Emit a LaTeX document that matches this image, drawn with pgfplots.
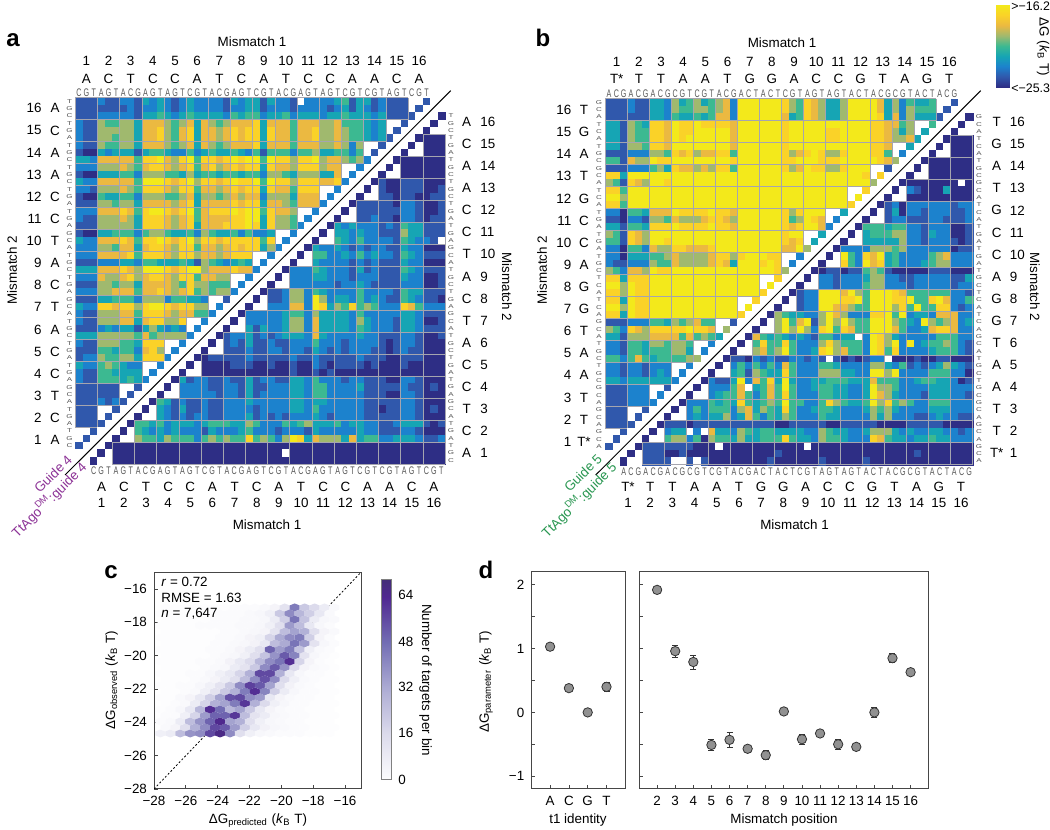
\documentclass[border=0pt]{standalone}
\usepackage{fontspec}
\setmainfont{Liberation Sans}
\usepackage{pgfplots}
\usepackage{pgfplotstable}
\pgfplotsset{compat=1.18}

% 1 px of the reference = 0.5pt
\newcommand\X[1]{{(#1)*0.5pt}}
\newcommand\Y[1]{{415pt-(#1)*0.5pt}}
\newcommand\lf{\fontsize{6.7}{8}\selectfont}
\newcommand\dG{ΔG}

\definecolor{guideA}{RGB}{140,50,150}
\definecolor{guideB}{RGB}{40,150,80}
\definecolor{axc}{RGB}{70,70,70}
\definecolor{gridc}{RGB}{165,165,175}
\definecolor{seqc}{RGB}{85,85,85}

\pgfplotsset{
  colormap={cells}{rgb255=(255,255,255) rgb255=(46,46,133) rgb255=(48,88,172) rgb255=(28,130,205)
    rgb255=(22,165,180) rgb255=(60,185,145) rgb255=(160,185,110) rgb255=(235,185,65)
    rgb255=(250,210,40) rgb255=(243,233,27)},
  colormap={bar}{rgb255=(46,46,133) rgb255=(48,88,172) rgb255=(28,130,205)
    rgb255=(22,165,180) rgb255=(60,185,145) rgb255=(160,185,110) rgb255=(235,185,65)
    rgb255=(250,210,40) rgb255=(243,233,27)},
  colormap={purp}{rgb255(0pt)=(253,253,254) rgb255(16pt)=(220,219,236) rgb255(32pt)=(173,172,212)
    rgb255(48pt)=(115,110,180) rgb255(64pt)=(80,40,145) rgb255(70pt)=(68,45,120)},
  heat/.style={hide axis, scale only axis, y dir=reverse, anchor=north west,
    xmin=-0.5, xmax=49.5, ymin=-0.5, ymax=49.5,
    colormap name=cells, point meta min=0, point meta max=9},
  plain/.style={scale only axis, anchor=north west, axis line style={axc, line width=0.5pt},
    tick align=inside, xtick pos=bottom, ytick pos=left, major tick length=2pt,
    tick style={axc, line width=0.4pt}, tick label style={font=\lf},
    label style={font=\lf}},
}

\pgfdeclareplotmark{hexb}{%
  \pgfpathmoveto{\pgfqpoint{0pt}{2pt}}%
  \pgfpathlineto{\pgfqpoint{2.5pt}{1pt}}%
  \pgfpathlineto{\pgfqpoint{2.5pt}{-1pt}}%
  \pgfpathlineto{\pgfqpoint{0pt}{-2pt}}%
  \pgfpathlineto{\pgfqpoint{-2.5pt}{-1pt}}%
  \pgfpathlineto{\pgfqpoint{-2.5pt}{1pt}}%
  \pgfpathclose\pgfusepathqfill}

% levels: 0 = no data, 1 (below -25.3) ... 9 (above -16.2)
\pgfplotstableread[header=false]{
2 2 2  3 2 2  3 3 2  4 3 4  3 2 3  4 3 3  3 3 2  4 3 4  4 2 4  3 3 2  0 3 3  3 3 4  5 2 4  4 2 3  2 2 2  0 0 2  0 0
2 2 2  2 2 2  2 3 2  3 3 4  3 2 3  4 3 3  3 3 2  3 3 4  4 2 3  3 3 2  3 3 3  3 2 3  4 2 4  3 2 3  2 2 2  0 2 0  0 0
2 2 2  3 3 3  3 3 2  4 4 5  4 3 4  5 4 4  4 4 3  5 4 5  5 3 4  4 5 3  4 4 4  3 4 4  5 4 4  4 3 4  2 2 2  2 0 0  0 1
3 2 2  6 5 5  6 6 4  7 7 7  6 5 6  7 4 7  6 5 6  7 7 7  8 4 7  7 7 5  7 7 7  6 6 7  5 5 5  4 3 4  0 0 2  0 0 0  1 0
3 2 2  6 6 6  6 6 4  7 7 8  6 5 7  8 4 7  7 6 7  8 7 8  8 4 8  7 7 5  7 7 8  6 6 7  6 5 5  4 3 4  0 2 0  0 0 1  0 0
3 2 2  6 6 5  6 6 4  7 7 8  6 5 7  8 4 7  7 6 7  8 7 8  8 4 8  7 7 5  7 7 8  6 6 7  6 5 5  4 3 4  2 0 0  0 1 1  1 1
3 2 2  6 5 5  6 6 4  7 7 7  6 5 6  7 4 7  6 5 6  7 7 7  8 4 7  7 7 5  7 7 7  6 6 7  6 3 6  0 0 2  0 0 0  1 0 1  1 1
2 1 1  4 3 4  4 4 2  4 5 5  4 3 3  5 3 4  5 4 4  5 4 3  5 2 5  5 5 3  5 5 6  4 4 5  5 3 5  0 2 0  0 0 1  0 0 1  1 1
4 4 3  7 7 7  7 7 5  8 8 9  7 6 8  9 5 8  8 7 8  9 8 9  9 5 9  8 8 6  8 8 9  6 7 7  6 5 6  3 0 0  0 1 1  1 1 1  1 1
3 3 3  6 6 6  7 6 5  7 8 8  7 6 7  8 5 7  8 6 7  8 7 8  8 4 8  7 7 6  8 8 8  6 7 7  0 0 3  0 0 0  1 0 1  1 1 1  1 1
2 1 1  4 4 4  5 5 3  6 6 6  5 5 4  6 4 5  5 4 5  5 4 5  5 3 6  6 5 4  6 6 6  4 4 7  0 3 0  0 0 1  0 0 1  1 1 1  1 1
4 3 3  7 7 7  7 7 5  9 9 9  8 7 8  9 6 8  8 7 8  9 8 8  9 5 9  8 8 6  8 8 8  7 7 8  3 0 0  0 1 2  1 1 2  2 2 1  1 1
3 3 2  6 6 6  7 6 5  8 8 8  7 6 8  8 5 7  7 6 7  8 7 8  8 4 8  7 7 5  8 8 8  0 0 3  0 0 0  1 0 2  1 1 2  2 2 1  1 2
2 1 1  5 4 4  5 5 3  6 6 6  5 5 6  7 4 6  6 5 6  7 6 7  7 3 6  6 6 4  7 7 7  0 3 0  0 0 1  0 0 2  2 1 2  2 1 1  2 2
2 2 2  6 6 5  6 6 4  7 7 7  7 6 7  8 4 7  7 7 7  8 7 8  8 4 7  7 6 5  7 7 7  3 0 0  0 1 2  2 2 2  2 1 3  3 2 1  1 2
3 3 3  7 7 7  8 7 5  8 9 9  8 7 8  9 5 7  8 8 8  9 8 9  9 5 8  7 7 6  0 0 3  0 0 0  1 0 2  2 2 2  2 2 3  3 2 1  1 2
3 2 2  6 6 6  7 6 4  8 8 8  7 6 7  8 5 7  7 7 7  8 8 9  9 4 8  6 6 5  0 3 0  0 0 1  0 0 2  2 3 2  2 1 3  3 2 1  2 2
2 2 2  6 6 6  6 6 4  8 8 8  7 6 7  8 4 7  7 7 8  8 8 9  8 4 8  6 6 5  3 0 0  0 1 4  3 4 3  3 3 2  3 2 5  4 4 2  2 2
2 1 1  4 4 5  5 5 3  5 6 6  5 4 4  5 3 6  5 4 4  5 3 5  3 3 4  0 0 3  0 0 0  1 0 4  4 3 4  3 3 2  2 2 6  4 4 2  2 2
4 3 3  7 7 7  8 7 5  8 8 9  8 7 8  9 6 8  8 7 8  8 8 8  8 5 8  0 3 0  0 0 1  0 0 5  4 3 5  3 3 3  3 2 5  4 3 3  2 0
3 3 3  6 6 5  7 7 4  7 8 8  7 6 8  8 5 7  7 6 7  8 7 8  8 4 6  3 0 0  0 1 4  3 3 4  3 2 3  2 3 3  2 2 4  3 3 1  1 1
3 3 3  7 7 7  7 8 5  8 8 8  7 6 8  8 6 7  7 6 7  8 8 8  0 0 3  0 0 0  1 0 5  5 3 3  4 3 5  3 4 3  3 2 5  4 3 2  2 2
2 2 2  3 3 3  4 4 3  5 5 4  4 4 5  4 2 6  5 4 3  4 5 4  0 3 0  0 0 1  0 0 4  3 3 3  3 2 3  2 3 2  2 2 4  3 3 1  1 1
4 4 4  7 7 7  8 7 6  9 9 9  8 7 8  9 9 6  7 7 7  8 7 7  3 0 0  0 1 3  3 3 5  4 3 3  3 2 4  2 3 2  2 2 5  4 3 2  2 2
3 3 3  7 6 6  7 8 6  7 8 8  7 6 8  8 5 7  7 6 6  0 0 3  0 0 0  1 0 3  3 3 4  4 3 3  3 2 3  3 3 2  2 2 4  3 3 1  1 2
2 2 2  6 6 5  6 6 4  7 7 7  7 6 5  8 6 6  5 5 5  0 3 0  0 0 1  0 0 3  3 3 3  3 3 2  3 3 4  3 2 2  2 2 3  3 3 1  1 2
3 3 3  6 6 7  7 7 5  7 7 8  7 6 7  8 5 6  5 6 6  3 0 0  0 1 2  2 3 6  6 3 5  4 3 3  3 3 5  3 3 3  3 2 5  4 4 2  2 2
2 2 2  4 4 5  5 5 3  6 6 6  3 5 5  4 4 3  0 0 2  0 0 0  1 0 2  2 3 6  6 3 9  6 3 4  4 3 5  3 4 3  2 2 5  4 3 2  2 1
4 3 3  8 8 7  8 8 6  8 9 9  8 7 8  8 6 6  0 3 0  0 0 1  0 0 3  3 3 7  7 3 9  8 4 6  5 8 5  6 5 3  3 3 8  7 5 3  3 3
3 2 2  6 6 6  7 7 5  8 8 8  7 6 7  7 5 5  3 0 0  0 1 3  3 3 3  3 4 5  5 3 6  4 4 4  4 3 5  3 3 3  3 3 4  4 3 2  2 2
3 2 2  6 6 6  7 7 4  7 8 8  6 6 8  0 0 3  0 0 0  1 0 3  3 3 3  3 4 6  6 3 7  4 4 4  4 3 6  4 3 3  3 2 4  4 3 1  1 2
2 2 2  3 4 3  4 4 2  4 6 4  3 4 3  0 3 0  0 0 1  0 0 4  2 4 3  3 4 6  6 3 7  4 4 4  4 3 5  4 3 3  3 2 4  4 3 2  2 2
4 4 4  6 6 6  6 6 5  7 5 6  6 6 6  3 0 0  0 1 2  3 3 4  2 3 2  3 4 4  4 3 7  4 3 3  3 3 4  3 3 2  2 2 3  3 2 1  1 2
3 2 2  6 6 6  5 5 4  8 8 8  0 0 3  0 0 0  1 0 2  3 2 4  2 2 3  2 2 3  3 3 5  3 3 3  2 3 3  3 3 2  1 2 3  3 2 1  1 1
2 2 2  5 5 4  5 5 3  7 8 6  0 3 0  0 0 1  0 0 2  2 2 3  2 2 3  3 2 3  3 2 4  3 2 3  2 3 3  3 2 2  1 2 3  2 2 1  1 1
2 3 3  6 5 5  6 6 4  8 8 8  3 0 0  0 1 1  2 2 2  2 2 3  2 2 2  2 2 3  2 2 3  2 2 2  2 2 3  2 2 2  1 1 2  2 2 1  1 1
4 3 3  5 6 5  4 3 3  0 0 3  0 0 0  1 0 1  1 1 1  2 2 2  1 1 2  1 1 2  1 1 3  2 1 2  2 2 2  1 2 1  1 1 2  1 1 1  1 1
3 2 2  5 5 4  4 4 4  0 3 0  0 0 1  0 0 1  1 1 1  1 1 1  1 1 1  1 1 2  1 1 2  1 2 1  1 1 1  1 1 1  1 1 1  1 1 1  1 1
3 2 2  5 5 5  4 5 4  3 0 0  0 1 4  2 3 3  2 2 3  2 2 4  2 3 3  2 2 4  4 3 5  3 3 3  2 3 3  2 2 2  1 1 3  3 2 1  1 1
2 2 2  2 2 2  0 0 2  0 0 0  1 0 3  3 3 3  2 2 3  3 2 4  2 2 3  3 3 4  4 3 5  5 3 3  3 3 4  2 2 2  2 2 3  2 2 1  2 1
2 2 2  2 2 2  0 2 0  0 0 1  0 0 3  3 3 3  3 2 3  3 2 4  2 3 3  3 3 4  4 3 5  5 3 3  3 3 3  2 2 2  1 1 3  3 2 1  1 1
2 2 2  3 2 3  2 0 0  0 1 5  4 2 3  2 2 3  2 2 3  3 3 4  3 3 3  3 3 4  4 3 4  4 3 3  3 3 3  2 2 2  2 2 3  3 2 1  1 1
2 2 2  0 0 2  0 0 0  1 0 4  3 2 4  2 2 3  2 2 3  3 3 3  2 3 3  3 3 4  4 3 5  3 3 3  3 3 3  2 2 1  2 2 3  3 2 1  2 1
2 2 2  0 2 0  0 0 1  0 0 4  3 2 3  2 3 3  2 2 3  3 3 4  2 3 2  3 2 3  3 3 4  3 2 3  3 3 3  2 2 2  2 2 3  3 2 1  1 1
2 2 2  2 0 0  0 1 5  5 4 5  3 4 4  4 3 4  5 5 5  4 4 6  5 3 3  3 5 4  5 6 4  4 4 5  3 4 4  3 3 2  2 3 4  4 4 2  1 2
0 0 2  0 0 0  1 0 5  4 3 4  3 4 3  3 3 2  4 3 3  3 4 5  3 3 3  2 3 3  3 2 4  3 3 3  3 3 4  3 3 2  2 2 3  3 2 1  1 1
0 2 0  0 0 1  0 0 6  5 5 4  6 5 5  5 3 5  6 5 6  5 5 8  5 6 5  3 6 9  8 4 7  6 6 6  4 7 4  5 5 3  3 4 4  4 3 2  2 3
2 0 0  0 1 1  1 1 1  1 1 1  1 1 1  1 1 1  1 1 1  1 1 1  1 1 1  1 1 1  1 1 1  1 1 1  1 1 1  1 1 1  1 1 1  1 1 1  1 1
0 0 0  1 0 1  1 1 1  1 1 1  1 1 1  1 1 1  1 1 1  1 1 1  1 1 1  1 0 1  1 1 1  1 1 1  1 1 1  1 1 1  1 1 1  1 1 1  1 1
0 0 1  0 0 1  1 1 1  1 1 1  1 1 1  1 1 1  1 1 1  1 1 1  1 1 1  1 1 1  1 1 1  1 1 1  1 1 1  1 1 1  1 1 1  1 1 1  1 1
}\tabA

\pgfplotstableread[header=false]{
2 2 2  3 2 2  4 4 3  6 4 5  6 4 5  6 7 3  9 9 9  9 9 9  8 6 5  8 7 6  4 4 6  9 9 9  9 7 4  6 3 5  4 4 5  0 0 2  0 0
2 2 2  3 2 2  4 4 3  6 5 5  6 6 5  6 7 3  9 9 9  9 9 9  8 6 5  8 7 6  4 4 6  9 9 9  9 7 4  6 3 6  5 5 5  0 2 0  0 0
2 2 2  2 2 2  4 4 3  5 4 4  5 4 5  7 7 3  9 9 9  9 9 9  7 4 5  8 7 6  4 4 6  9 9 9  9 8 4  7 3 6  4 4 4  2 0 0  0 1
4 4 2  6 5 4  8 8 7  9 8 8  9 8 8  8 8 7  9 9 9  9 9 9  8 9 9  9 9 9  9 9 9  9 9 9  8 8 7  7 5 6  0 0 5  0 0 0  1 0
4 4 2  6 5 5  8 8 7  9 8 8  9 9 9  9 9 7  9 9 9  9 9 9  8 9 9  9 9 9  8 8 9  9 9 9  8 8 7  6 4 6  0 4 0  0 0 1  0 0
4 4 2  6 5 5  8 8 7  9 8 9  9 9 9  9 9 7  9 9 9  9 9 9  8 9 9  9 9 9  8 8 9  9 9 9  8 8 7  6 6 7  4 0 0  0 1 1  1 1
4 4 2  6 6 5  8 8 7  9 9 9  9 9 9  9 9 7  9 9 9  9 9 9  8 9 9  9 9 9  9 9 9  9 9 9  8 8 7  0 0 4  0 0 0  1 0 1  1 1
2 2 2  3 3 3  6 6 5  8 7 8  6 7 7  8 8 5  9 9 9  9 9 9  8 6 7  8 9 8  6 6 8  9 9 9  8 8 5  0 3 0  0 0 1  0 0 1  1 1
5 5 2  7 6 6  9 8 8  9 9 9  9 9 9  9 9 8  9 9 9  9 9 9  8 8 9  9 9 8  8 8 9  9 9 9  9 8 7  6 0 0  0 1 1  1 1 1  1 1
2 2 2  3 3 3  5 6 4  8 7 7  6 7 6  8 8 5  9 9 9  9 9 9  8 6 7  9 8 8  6 6 8  9 9 9  0 0 2  0 0 0  1 0 1  1 1 1  1 1
8 8 4  9 9 9  9 9 9  9 9 9  9 9 9  9 9 9  9 9 9  9 9 9  9 9 9  9 9 9  9 9 9  9 9 8  0 8 0  0 0 1  0 0 1  1 1 1  1 1
6 5 2  8 7 6  9 9 8  9 9 9  9 9 9  9 9 9  9 9 9  9 9 9  9 9 9  9 9 9  9 9 9  9 9 9  6 0 0  0 1 1  1 1 1  1 1 1  0 1
8 8 5  9 9 9  9 9 9  9 9 9  9 9 9  9 9 9  9 9 9  9 9 9  9 9 9  9 9 9  9 9 9  0 0 8  0 0 0  1 0 3  2 1 1  1 4 1  1 1
9 9 6  9 9 9  9 9 9  9 9 9  9 9 9  9 9 9  9 9 9  9 9 9  9 9 9  9 9 9  9 9 9  0 9 0  0 0 1  0 0 1  1 1 1  1 1 1  1 1
8 8 5  9 9 9  9 9 9  9 9 9  9 9 9  9 9 9  9 9 9  9 9 9  9 9 9  9 9 9  9 9 9  8 0 0  0 1 2  3 1 3  3 3 3  3 3 2  3 3
3 3 1  5 5 4  7 7 7  9 8 8  8 8 9  8 8 7  9 9 9  9 9 9  8 6 8  9 9 9  0 0 4  0 0 0  1 0 2  4 1 3  3 2 3  3 3 2  2 3
2 2 1  3 3 2  6 6 5  7 6 6  6 7 8  8 7 6  9 9 9  9 9 9  8 5 6  9 8 7  0 3 0  0 0 1  0 0 2  3 3 2  2 2 3  3 2 2  2 3
4 4 2  5 5 4  8 8 8  9 8 8  8 8 9  8 8 7  9 9 9  9 9 9  8 7 8  9 9 7  3 0 0  0 1 5  5 5 4  5 5 3  3 2 3  3 3 1  1 2
6 5 2  8 7 6  9 9 9  9 9 9  9 9 9  9 9 9  9 9 9  9 9 9  8 9 9  0 0 4  0 0 0  1 0 4  5 5 5  6 6 3  3 2 4  3 3 1  1 2
5 5 2  8 7 6  9 9 8  9 9 9  9 9 9  9 9 9  9 9 9  9 9 9  8 7 8  0 4 0  0 0 1  0 0 4  4 4 4  4 6 3  3 2 3  3 3 2  1 2
3 3 1  5 5 3  7 6 6  8 8 7  7 7 8  9 9 9  9 9 9  9 9 9  7 7 9  6 0 0  0 1 3  3 3 3  6 6 6  5 6 3  3 3 3  3 3 1  2 2
3 3 1  4 4 4  5 5 6  7 6 6  6 6 7  8 8 6  8 9 9  9 8 8  0 0 3  0 0 0  1 0 9  5 3 8  7 9 4  5 3 3  3 3 5  6 7 3  3 3
3 2 2  3 3 3  6 5 5  7 6 6  6 6 7  8 7 4  9 9 9  8 9 8  0 3 0  0 0 1  0 0 8  5 3 9  7 8 4  5 3 3  3 4 5  6 6 3  3 3
6 5 3  7 7 6  9 8 8  9 9 9  9 9 9  9 9 9  9 9 9  9 9 8  6 0 0  0 1 1  2 2 1  2 2 5  6 5 2  1 1 1  1 1 2  2 2 1  1 1
8 8 4  8 8 8  9 9 9  9 9 9  9 9 9  9 9 9  9 9 9  0 0 8  0 0 0  1 0 3  3 2 3  3 3 4  6 6 3  3 2 2  3 3 3  3 3 2  2 4
9 9 6  9 8 8  9 9 9  9 9 9  9 9 9  9 9 9  9 9 9  0 9 0  0 0 1  0 0 3  3 2 3  3 3 5  6 6 3  3 3 2  3 3 3  3 3 2  3 3
8 8 6  9 8 8  9 9 9  9 9 9  9 9 9  9 9 9  9 9 9  8 0 0  0 1 2  3 3 9  9 9 7  9 6 5  9 9 9  8 7 5  5 5 5  5 5 3  3 2
8 8 4  9 8 8  9 9 9  9 9 9  9 9 9  9 9 9  0 0 8  0 0 0  1 0 2  3 3 9  9 9 8  8 9 5  9 9 9  8 8 9  5 5 8  9 7 3  3 5
9 9 6  9 8 8  9 9 9  9 9 9  9 9 9  9 9 9  0 9 0  0 0 1  0 0 2  3 3 9  9 7 7  6 5 5  9 9 9  6 8 5  9 5 5  8 8 3  2 3
8 8 4  9 8 8  9 9 9  9 9 9  9 9 9  9 9 9  8 0 0  0 1 6  5 4 4  3 3 6  9 7 6  3 3 3  8 8 9  5 9 3  4 4 3  7 7 7  3 3
2 2 2  3 3 3  5 5 4  6 5 6  7 5 5  0 0 2  0 0 0  1 0 6  9 5 7  9 2 6  9 6 9  6 5 5  9 9 9  6 5 4  3 9 6  5 6 7  3 4
6 5 3  8 7 6  8 8 8  8 8 9  8 8 7  0 6 0  0 0 1  0 0 6  9 6 9  6 3 8  9 5 8  7 5 5  9 9 9  7 5 3  3 4 7  8 8 7  3 3
4 4 2  6 6 6  7 7 7  7 5 7  5 6 5  4 0 0  0 1 7  5 4 5  4 3 4  3 2 5  5 3 4  4 0 3  9 8 6  4 3 3  3 3 3  5 5 5  3 3
3 3 2  5 5 4  6 6 5  6 6 5  0 0 3  0 0 0  1 0 5  8 5 5  8 5 3  3 3 6  8 6 5  5 5 3  9 8 6  9 3 9  3 4 5  5 6 5  3 2
3 3 2  5 5 4  5 5 5  6 6 4  0 3 0  0 0 1  0 0 6  7 5 6  9 5 3  3 4 8  9 6 7  5 5 3  9 8 5  8 3 3  3 3 4  5 5 5  3 2
5 5 3  5 7 5  4 5 5  5 5 6  6 0 0  0 1 2  2 1 3  2 3 2  2 3 3  2 3 2  0 2 1  2 1 2  3 3 0  1 1 1  2 1 1  2 2 1  1 1
3 3 2  3 3 2  3 3 3  0 0 3  0 0 0  1 0 3  5 3 5  3 5 3  7 5 3  3 3 5  5 4 3  3 3 3  6 6 4  3 5 2  3 2 3  4 6 4  3 2
3 3 2  3 3 2  3 4 3  0 3 0  0 0 1  0 0 4  5 2 6  5 4 4  8 5 3  3 3 6  6 6 4  4 3 3  9 9 6  9 3 3  3 3 5  5 5 3  3 1
4 4 3  4 4 4  4 4 4  3 0 0  0 1 3  2 2 4  9 3 7  5 8 4  9 4 3  3 4 4  5 5 5  4 4 4  7 5 5  5 3 3  4 5 5  4 4 3  1 2
2 2 2  3 3 3  0 0 2  0 0 0  1 0 3  3 3 5  7 0 4  5 7 5  9 5 3  3 4 5  5 4 4  3 3 4  9 6 6  5 3 3  3 3 4  4 4 3  3 3
2 2 2  3 3 3  0 3 0  0 0 1  0 0 3  4 5 5  7 5 3  5 7 5  8 5 3  3 3 5  5 4 4  3 3 4  9 7 6  4 3 3  3 2 4  4 4 3  3 2
2 2 2  3 3 3  3 0 0  0 1 3  3 3 5  4 5 4  8 5 4  5 6 5  9 5 5  3 3 5  8 6 5  4 4 5  9 6 8  5 6 5  3 3 5  5 5 3  3 3
2 2 2  0 0 2  0 0 0  1 0 3  5 3 5  5 5 3  6 7 4  6 5 4  8 5 3  3 4 5  5 4 3  3 3 4  6 5 6  4 3 3  3 3 4  4 4 3  3 3
2 2 2  0 2 0  0 0 1  0 0 3  4 3 4  4 6 3  4 7 5  3 5 4  6 5 3  3 3 5  4 4 3  3 3 3  6 4 6  3 3 3  2 2 3  4 3 3  2 2
2 2 2  2 0 0  0 1 2  2 2 1  2 2 2  2 2 2  2 2 2  2 2 1  1 2 2  2 2 2  1 1 2  2 2 2  2 1 1  1 1 2  2 2 2  2 1 1  1 1
0 0 2  0 0 0  1 0 3  4 4 0  3 0 7  4 4 3  6 5 4  5 5 4  4 4 4  3 3 6  5 4 4  3 3 4  6 6 6  4 3 4  3 3 4  4 3 3  2 3
0 2 0  0 0 1  0 0 5  6 6 3  5 1 6  5 5 4  6 4 4  5 5 5  8 5 4  4 3 6  5 5 4  3 3 3  8 7 5  4 4 3  4 4 5  4 4 3  3 3
2 0 0  0 1 2  2 2 2  2 2 2  1 1 1  0 1 1  1 1 1  1 1 1  1 1 1  0 1 1  1 1 1  1 1 1  1 1 1  1 1 1  1 1 1  1 1 1  1 1
0 0 0  1 0 2  2 2 1  1 2 1  1 1 1  1 1 1  1 1 1  1 1 2  1 1 1  1 1 1  1 1 1  1 1 1  1 1 1  1 1 1  2 1 1  1 1 1  1 1
0 0 1  0 0 2  2 2 2  0 0 2  0 2 1  1 1 1  1 1 1  1 2 1  1 1 1  1 1 2  1 1 1  1 1 2  1 1 1  1 1 1  1 1 1  1 1 1  1 1
}\tabB

% hexbin counts: y, then 18 bins along the row (every other row is shifted half a bin)
\pgfplotstableread[header=false]{
-24.67 6 8 26 38 40 56 66 40 14 6 3 2 1 1 1 0 0 0
-24.31 2 4 14 30 40 56 52 36 20 10 5 3 2 1 1 0 0 0
-23.95 1 2 8 26 38 50 64 34 30 14 6 3 2 1 1 0 0 0
-23.59 1 1 6 18 36 50 50 60 26 12 8 3 2 1 1 0 0 0
-23.23 0 1 3 10 28 62 48 28 34 22 10 4 2 1 1 0 0 0
-22.87 0 1 2 8 18 30 34 44 60 30 16 6 3 1 1 0 0 0
-22.51 0 0 2 4 10 20 34 54 56 40 36 10 4 2 1 1 0 0
-22.15 0 0 1 2 6 12 22 30 44 62 42 20 8 3 1 1 0 0
-21.79 0 0 1 1 3 6 12 22 40 58 52 34 14 5 2 1 0 0
-21.43 0 0 0 1 2 4 8 14 26 40 54 40 16 6 2 1 0 0
-21.07 0 0 0 1 1 3 6 10 18 30 56 56 30 10 3 1 1 0
-20.71 0 0 0 0 1 2 3 8 12 22 40 52 38 16 4 2 1 0
-20.35 0 0 0 0 1 1 2 5 10 16 28 40 46 62 18 4 1 0
-19.99 0 0 0 0 0 1 2 3 6 14 24 38 52 42 12 3 1 0
-19.63 0 0 0 0 0 1 1 2 4 8 14 50 36 44 24 6 2 1
-19.27 0 0 0 0 0 1 1 2 3 5 10 26 32 46 36 12 3 1
-18.91 0 0 0 0 0 0 1 1 2 4 6 18 32 40 44 20 4 1
-18.55 0 0 0 0 0 0 1 1 2 3 4 12 26 34 30 14 4 2
-18.19 0 0 0 0 1 1 1 1 2 2 3 6 14 36 26 10 3 1
-17.83 0 0 0 0 0 1 1 1 2 2 3 8 20 46 24 8 3 2
-17.47 0 0 0 0 0 0 1 1 1 2 3 6 22 40 28 20 10 2
-17.11 0 0 0 0 0 0 0 1 1 1 2 4 12 44 22 16 8 2
}\tabC

\pgfplotstableread{
x y e
0 1.03 0.05
1 0.38 0.04
2 0.00 0.02
3 0.40 0.07
}\tabDa

\pgfplotstableread{
x y e
2 1.92 0.03
3 0.96 0.09
4 0.79 0.11
5 -0.51 0.09
6 -0.43 0.11
7 -0.57 0.05
8 -0.67 0.07
9 0.015 0.03
10 -0.42 0.08
11 -0.33 0.05
12 -0.50 0.08
13 -0.54 0.03
14 0.00 0.08
15 0.85 0.07
16 0.63 0.02
}\tabDb

% one column of a heat map
\newcommand\heatcols[2]{%
  \pgfplotsinvokeforeach{0,...,49}{%
    \addplot[scatter, only marks, mark=square*, mark size=#2,
      scatter/use mapped color={draw=mapped color, fill=mapped color},
      mark options={line width=0.05pt}, point meta=explicit]
      table[x expr=##1, y expr=\coordindex, meta index=##1] {#1};
  }}

% block lines over both triangles
\newcommand\cellgrid[4]{%
  \draw[gridc, line width=0.3pt] (\X{#1},\Y{#2}) -- (\X{#1},\Y{#2+45*#4});
  \draw[gridc, line width=0.3pt] (\X{#1},\Y{#2}) -- (\X{#1+45*#3},\Y{#2});
  \draw[gridc, line width=0.3pt] (\X{#1+50*#3},\Y{#2+5*#4}) -- (\X{#1+50*#3},\Y{#2+50*#4});
  \draw[gridc, line width=0.3pt] (\X{#1+5*#3},\Y{#2+50*#4}) -- (\X{#1+50*#3},\Y{#2+50*#4});
  \foreach \k in {1,...,15} {
    \draw[gridc, line width=0.3pt] (\X{#1+3*\k*#3},\Y{#2}) -- (\X{#1+3*\k*#3},\Y{#2+3*(16-\k)*#4});
    \draw[gridc, line width=0.3pt] (\X{#1},\Y{#2+3*\k*#4}) -- (\X{#1+3*(16-\k)*#3},\Y{#2+3*\k*#4});
    \draw[gridc, line width=0.3pt] (\X{#1+(2+3*\k)*#3},\Y{#2+(50-3*\k)*#4}) -- (\X{#1+(2+3*\k)*#3},\Y{#2+50*#4});
    \draw[gridc, line width=0.3pt] (\X{#1+(50-3*\k)*#3},\Y{#2+(2+3*\k)*#4}) -- (\X{#1+50*#3},\Y{#2+(2+3*\k)*#4});
  }}

\newcommand\seqh[4]{\foreach \l [count=\i from 0] in {#4}
  \node[seqc, inner sep=0pt] at (\X{#1+#2*\i},\Y{#3}) {\fontsize{5.5}{6}\selectfont\scalebox{.65}[1]{\l}};}
\newcommand\seqv[4]{\foreach \l [count=\i from 0] in {#4}
  \node[seqc, inner sep=0pt] at (\X{#1},\Y{#2+#3*\i}) {\fontsize{4}{5}\selectfont\scalebox{1}[.7]{\l}};}
% numbers and letters, along a row or down a column (#6 = anchor of the numbers)
\newcommand\numh[5]{\foreach \n/\l [count=\i from 0] in {#5} {
  \node[inner sep=0pt] at (\X{#1+#2*\i},\Y{#3}) {\lf \n};
  \node[inner sep=0pt] at (\X{#1+#2*\i},\Y{#4}) {\lf \l};}}
\newcommand\numv[6]{\foreach \n/\l [count=\i from 0] in {#5} {
  \node[inner sep=0pt, anchor=#6] at (\X{#1},\Y{#3+#4*\i}) {\lf \n};
  \node[inner sep=0pt] at (\X{#2},\Y{#3+#4*\i}) {\lf \l};}}
\newcommand\tx[3]{\node[inner sep=0pt] at (\X{#1},\Y{#2}) {\lf #3};}

\begin{document}
\begin{tikzpicture}
\path[use as bounding box] (0,0) rectangle (525pt,415pt);

% a
\begin{axis}[heat, at={(\X{75.3},\Y{97.7})}, width=184.85pt, height=183.15pt]
\heatcols{\tabA}{1.87pt}
\end{axis}
\cellgrid{75.3}{97.7}{7.394}{7.326}
\draw[black, line width=0.5pt] (\X{450.7},\Y{90.7}) -- (\X{65},\Y{475});

% b
\begin{axis}[heat, at={(\X{605.3},\Y{98.7})}, width=183.7pt, height=183pt]
\heatcols{\tabB}{1.86pt}
\end{axis}
\cellgrid{605.3}{98.7}{7.348}{7.32}
\draw[black, line width=0.5pt] (\X{980.7},\Y{90.7}) -- (\X{595.7},\Y{475});

% colour key of a and b
\begin{axis}[scale only axis, anchor=north west, at={(\X{996},\Y{5})}, width=7pt, height=41.15pt,
  hide axis, view={0}{90}, colormap name=bar, xmin=0, xmax=1, ymin=1, ymax=9]
\addplot3[surf, shader=interp, mesh/rows=2, point meta=z] coordinates {(0,1,1) (1,1,1) (0,9,9) (1,9,9)};
\end{axis}
\node[inner sep=0pt, anchor=west] at (\X{1011},\Y{6}) {\fontsize{6.2}{8}\selectfont >−16.2};
\node[inner sep=0pt, anchor=west] at (\X{1011},\Y{88}) {\fontsize{6.2}{8}\selectfont <−25.3};
\node[inner sep=0pt, rotate=-90] at (\X{1043},\Y{47}) {\lf \dG\ (\textit{k}\textsubscript{B} T)};

% labels of a
\numh{86.3}{22.18}{61}{79}{1/A,2/C,3/T,4/C,5/C,6/A,7/T,8/C,9/A,10/T,11/C,12/C,13/A,14/A,15/C,16/A}
\numh{101.7}{22.15}{503}{487}{1/A,2/C,3/T,4/C,5/C,6/A,7/T,8/C,9/A,10/T,11/C,12/C,13/A,14/A,15/C,16/A}
\numv{42}{55}{108.3}{22.11}{16/A,15/C,14/A,13/A,12/C,11/C,10/T,9/A,8/C,7/T,6/A,5/C,4/C,3/T,2/C,1/A}{east}
\numv{480}{466.7}{121.7}{22.11}{16/A,15/C,14/A,13/A,12/C,11/C,10/T,9/A,8/C,7/T,6/A,5/C,4/C,3/T,2/C,1/A}{west}
\seqh{79}{7.394}{92.5}{C,G,T,A,G,T,A,C,G,A,G,T,A,G,T,C,G,T,A,C,G,A,G,T,C,G,T,A,C,G,A,G,T,A,G,T,C,G,T,C,G,T,A,G,T,C,G,T}
\seqh{93.8}{7.394}{471}{C,G,T,A,G,T,A,C,G,A,G,T,A,G,T,C,G,T,A,C,G,A,G,T,C,G,T,A,C,G,A,G,T,A,G,T,C,G,T,C,G,T,A,G,T,C,G,T}
\seqv{69.5}{101.4}{7.326}{T,G,C,T,G,A,T,G,C,T,G,C,T,G,A,T,G,A,G,C,A,T,G,C,T,G,A,G,C,A,T,G,C,T,G,A,T,G,A,G,C,A,T,G,A,T,G,C}
\seqv{451}{116}{7.326}{T,G,C,T,G,A,T,G,C,T,G,C,T,G,A,T,G,A,G,C,A,T,G,C,T,G,A,G,C,A,T,G,C,T,G,A,T,G,A,G,C,A,T,G,A,T,G,C}
\tx{252}{42}{Mismatch 1}
\tx{267}{525}{Mismatch 1}
\node[inner sep=0pt, rotate=90] at (\X{12},\Y{270}) {\lf Mismatch 2};
\node[inner sep=0pt, rotate=-90] at (\X{507},\Y{287}) {\lf Mismatch 2};
\node[inner sep=0pt, rotate=45, guideA] at (\X{53},\Y{474}) {\lf Guide 4};
\node[inner sep=0pt, rotate=45, guideA] at (\X{49},\Y{500}) {\lf TtAgo\textsuperscript{DM}:guide 4};

% labels of b
\numh{616.7}{22.17}{62}{79.3}{1/T*,2/T,3/T,4/A,5/A,6/T,7/G,8/G,9/A,10/C,11/C,12/G,13/T,14/A,15/G,16/T}
\numh{628}{22.2}{503}{487}{1/T*,2/T,3/T,4/A,5/A,6/T,7/G,8/G,9/A,10/C,11/C,12/G,13/T,14/A,15/G,16/T}
\numv{571.7}{584}{110}{22.11}{16/T,15/G,14/A,13/T,12/G,11/C,10/C,9/A,8/G,7/G,6/T,5/A,4/A,3/T,2/T,1/T*}{east}
\numv{1009.5}{996.7}{122}{22.09}{16/T,15/G,14/A,13/T,12/G,11/C,10/C,9/A,8/G,7/G,6/T,5/A,4/A,3/T,2/T,1/T*}{west}
\seqh{609}{7.348}{93.3}{A,C,G,A,C,G,A,C,G,C,G,T,C,G,T,A,C,G,A,C,T,A,C,T,C,G,T,A,G,T,A,G,T,A,C,T,A,C,G,C,G,T,A,C,T,A,C,G}
\seqh{623.7}{7.348}{471.7}{A,C,G,A,C,G,A,C,G,C,G,T,C,G,T,A,C,G,A,C,T,A,C,T,C,G,T,A,G,T,A,G,T,A,C,T,A,C,G,C,G,T,A,C,T,A,C,G}
\seqv{599}{102.4}{7.32}{G,C,A,T,C,A,T,G,C,G,C,A,T,C,A,T,G,A,T,G,A,T,G,C,T,C,A,T,C,A,G,C,A,T,G,C,T,G,C,G,C,A,G,C,A,G,C,A}
\seqv{979}{117}{7.32}{G,C,A,T,C,A,T,G,C,G,C,A,T,C,A,T,G,A,T,G,A,T,G,C,T,C,A,T,C,A,G,C,A,T,G,C,T,G,C,G,C,A,G,C,A,G,C,A}
\tx{782}{43}{Mismatch 1}
\tx{794.5}{525}{Mismatch 1}
\node[inner sep=0pt, rotate=90] at (\X{542},\Y{270}) {\lf Mismatch 2};
\node[inner sep=0pt, rotate=-90] at (\X{1035},\Y{287}) {\lf Mismatch 2};
\node[inner sep=0pt, rotate=45, guideB] at (\X{583},\Y{473}) {\lf Guide 5};
\node[inner sep=0pt, rotate=45, guideB] at (\X{579},\Y{500}) {\lf TtAgo\textsuperscript{DM}:guide 5};

% c
\begin{axis}[plain, at={(\X{154},\Y{572.3})}, width=103.5pt, height=108.35pt,
  xmin=-28, xmax=-15, ymin=-28, ymax=-15,
  xtick={-28,-26,-24,-22,-20,-18,-16}, ytick={-28,-26,-24,-22,-20,-18,-16},
  xticklabels={−28,−26,−24,−22,−20,−18,−16}, yticklabels={−28,−26,−24,−22,−20,−18,−16},
  colormap name=purp, point meta min=0, point meta max=69.3]
\pgfplotsinvokeforeach{1,...,18}{
  \addplot[scatter, only marks, mark=hexb, point meta=explicit,
    scatter/use mapped color={fill=mapped color, draw=mapped color}]
    table[x expr={-27.6+0.625*(#1-1)+0.31*mod(\coordindex,2)}, y index=0, meta index=#1] {\tabC};
}
\addplot[black, line width=0.4pt, dash pattern=on 1pt off 1pt] coordinates {(-28,-28) (-15,-15)};
\end{axis}
\node[inner sep=0pt, anchor=west] at (\X{161},\Y{581.7}) {\lf \textit{r} = 0.72};
\node[inner sep=0pt, anchor=west] at (\X{161},\Y{598}) {\lf RMSE = 1.63};
\node[inner sep=0pt, anchor=west] at (\X{161},\Y{613.7}) {\lf \textit{n} = 7,647};
\tx{258}{821}{\dG\textsubscript{predicted} (\textit{k}\textsubscript{B} T)}
\node[inner sep=0pt, rotate=90] at (\X{111.7},\Y{680}) {\lf \dG\textsubscript{observed} (\textit{k}\textsubscript{B} T)};

% colour key of c
\begin{axis}[scale only axis, anchor=north west, at={(\X{381},\Y{579.7})}, width=5.35pt, height=100.15pt,
  view={0}{90}, colormap name=purp, xmin=0, xmax=1, ymin=0, ymax=69.3, ticks=none,
  axis line style={gray, line width=0.5pt}, point meta min=0, point meta max=69.3]
\addplot3[surf, shader=interp, mesh/rows=2, point meta=z] coordinates {(0,0,0) (1,0,0) (0,69.3,69.3) (1,69.3,69.3)};
\end{axis}
\foreach \v/\p in {64/595, 48/641.7, 32/687, 16/733, 0/780}
  \node[inner sep=0pt, anchor=west] at (\X{398},\Y{\p}) {\lf \v};
\node[inner sep=0pt, rotate=-90] at (\X{425.7},\Y{680}) {\lf Number of targets per bin};

% d
\begin{axis}[plain, at={(\X{531.3},\Y{572})}, width=47pt, height=108.5pt,
  xmin=-1, xmax=4, ymin=-1.2, ymax=2.2,
  xtick={0,1,2,3}, xticklabels={A,C,G,T},
  ytick={-1,-0.5,0,0.5,1,1.5,2}, yticklabels={−1,,0,,1,,2}]
\addplot[only marks, mark=*, mark size=2.35pt, mark options={fill={rgb,255:red,145;green,145;blue,145}, draw={rgb,255:red,50;green,50;blue,50}, line width=0.4pt}]
  table[x=x, y=y] {\tabDa};
\addplot[draw=none, mark=none, error bars/y dir=both, error bars/y explicit,
  error bars/error bar style={black!80, line width=0.35pt},
  error bars/error mark options={rotate=90, black!80, mark size=1.5pt, line width=0.35pt}]
  table[x=x, y=y, y error=e] {\tabDa};
\end{axis}
\begin{axis}[plain, at={(\X{639},\Y{572})}, width=144.85pt, height=108.5pt,
  xmin=1, xmax=17, ymin=-1.2, ymax=2.2,
  xtick={2,3,...,16}, xticklabels={2,3,4,5,6,7,8,9,10,11,12,13,14,15,16},
  ytick={-1,-0.5,0,0.5,1,1.5,2}, yticklabels={}]
\addplot[only marks, mark=*, mark size=2.35pt, mark options={fill={rgb,255:red,145;green,145;blue,145}, draw={rgb,255:red,50;green,50;blue,50}, line width=0.4pt}]
  table[x=x, y=y] {\tabDb};
\addplot[draw=none, mark=none, error bars/y dir=both, error bars/y explicit,
  error bars/error bar style={black!80, line width=0.35pt},
  error bars/error mark options={rotate=90, black!80, mark size=1.5pt, line width=0.35pt}]
  table[x=x, y=y, y error=e] {\tabDb};
\end{axis}
\tx{578}{820}{t1 identity}
\tx{784}{820}{Mismatch position}
\node[inner sep=0pt, rotate=90] at (\X{486},\Y{681.7}) {\lf \dG\textsubscript{parameter} (\textit{k}\textsubscript{B} T)};

% panel letters
\foreach \t/\x/\y in {a/13/40, b/543/38, c/111/572, d/486/570}
  \node[inner sep=0pt] at (\X{\x},\Y{\y}) {\fontsize{12}{14}\selectfont\bfseries \t};
\end{tikzpicture}
\end{document}
